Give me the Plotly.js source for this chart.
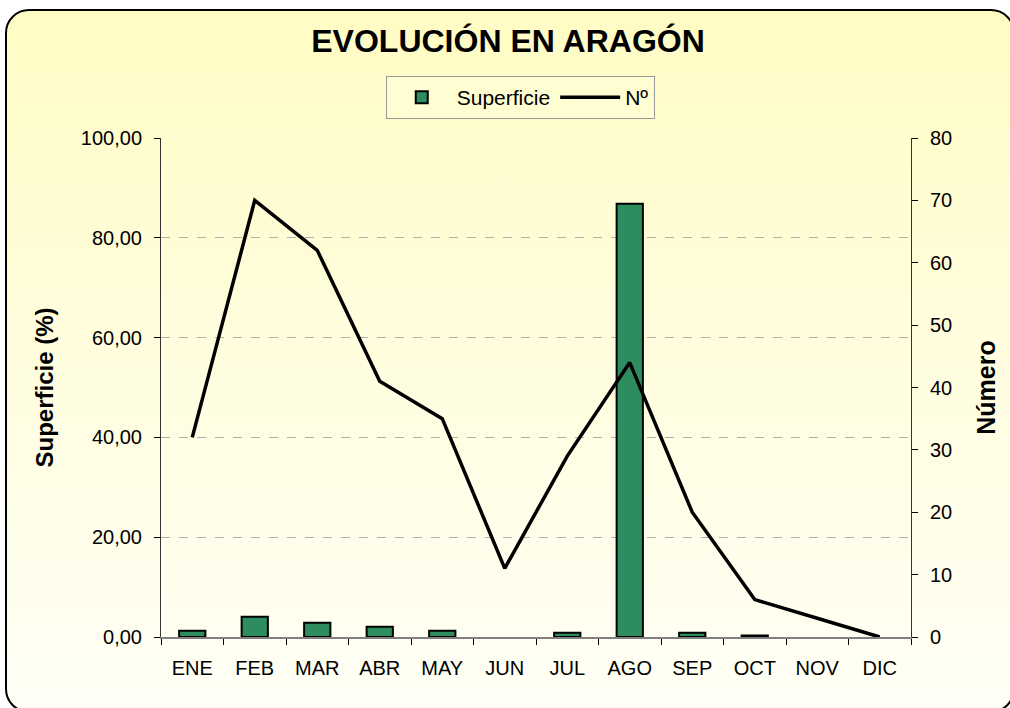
<!DOCTYPE html>
<html>
<head>
<meta charset="utf-8">
<script src="https://cdn.plot.ly/plotly-3.0.1.min.js"></script>
<style>
  html, body { margin: 0; padding: 0; background: #ffffff; overflow: hidden; }
  #frame {
    position: absolute; left: 5px; top: 9px; width: 1010px; height: 704px;
    border: 2px solid #000; border-radius: 24px; box-sizing: border-box;
    background: linear-gradient(to bottom, #fffcc4 0%, #fffddc 45%, #fffff6 100%);
  }
  #chart { position: absolute; left: 0; top: 0; width: 1010px; height: 708px; }
</style>
</head>
<body>
<div id="frame"></div>
<div id="chart"></div>
<script>
const months = ["ENE","FEB","MAR","ABR","MAY","JUN","JUL","AGO","SEP","OCT","NOV","DIC"];
const superficie = [1.27, 4.05, 2.87, 2.07, 1.27, 0, 0.87, 86.8, 0.87, 0.3, 0, 0];
const numero = [32, 70, 62, 41, 35, 11, 29, 44, 20, 6, 3, 0];
const leftTicks = [0, 20, 40, 60, 80, 100];
const rightTicks = [0, 10, 20, 30, 40, 50, 60, 70, 80];

const FONT = "Liberation Sans, Arial, sans-serif";
const TICK = 20;

const traces = [
  {
    type: "bar", name: "Superficie", x: months, y: superficie,
    width: 0.42,
    marker: { color: "#2d8d5f", line: { color: "#000000", width: superficie.map(v => v > 0 ? 2 : 0) } },
    yaxis: "y"
  },
  {
    type: "scatter", mode: "lines", name: "Nº", x: months, y: numero,
    line: { color: "#000000", width: 3.5 },
    yaxis: "y2"
  }
];

const layout = {
  width: 1010, height: 708,
  paper_bgcolor: "rgba(0,0,0,0)", plot_bgcolor: "rgba(0,0,0,0)",
  margin: { l: 161, r: 99, t: 138, b: 71 },
  font: { family: FONT, color: "#000", size: TICK },
  separators: ",.",
  title: {
    text: "<b>EVOLUCIÓN EN ARAGÓN</b>",
    font: { family: FONT, size: 32, color: "#000" },
    x: 0.503, xref: "container", xanchor: "center",
    y: 0.943, yref: "container", yanchor: "middle"
  },
  showlegend: true,
  legend: {
    orientation: "h", x: 0.479, xanchor: "center", y: 1.124, yanchor: "top",
    bgcolor: "#fffdd2", bordercolor: "#999999", borderwidth: 1,
    font: { family: FONT, size: 21, color: "#000" },
    itemwidth: 60,
    traceorder: "normal"
  },
  xaxis: {
    type: "category", tickson: "boundaries", ticks: "outside", ticklen: 6, tickcolor: "#000",
    showline: true, linecolor: "#808080", linewidth: 2,
    tickfont: { family: FONT, size: TICK, color: "#000" },
    ticklabelstandoff: 12,
    showgrid: false, zeroline: false, fixedrange: true
  },
  yaxis: {
    range: [0, 100], tickvals: leftTicks, tickformat: ".2f",
    ticks: "outside", ticklen: 6, tickcolor: "#000",
    showline: true, linecolor: "#333", linewidth: 1,
    showgrid: true, gridcolor: "#b0b0b0", griddash: "dash", gridwidth: 1,
    zeroline: false, ticklabelstandoff: 8,
    tickfont: { family: FONT, size: TICK, color: "#000" },
    title: { text: "<b>Superficie (%)</b>", font: { family: FONT, size: 24, color: "#000" }, standoff: 20 }
  },
  yaxis2: {
    overlaying: "y", side: "right", range: [0, 80], tickvals: rightTicks,
    ticks: "outside", ticklen: 6, tickcolor: "#000",
    showline: true, linecolor: "#333", linewidth: 1,
    showgrid: false, zeroline: false, ticklabelstandoff: 8,
    tickfont: { family: FONT, size: TICK, color: "#000" },
    title: { text: "<b>Número</b>", font: { family: FONT, size: 25, color: "#000" }, standoff: 26 }
  },
  yaxis3: {
    overlaying: "y", side: "left", range: [0, 100], tickvals: leftTicks,
    ticks: "inside", ticklen: 6, tickcolor: "#000", showticklabels: false,
    showline: false, showgrid: false, zeroline: false
  },
  yaxis4: {
    overlaying: "y", side: "right", range: [0, 80], tickvals: rightTicks,
    ticks: "inside", ticklen: 6, tickcolor: "#000", showticklabels: false,
    showline: false, showgrid: false, zeroline: false
  }
};

Plotly.newPlot("chart", traces, layout, { displayModeBar: false, staticPlot: true });
</script>
</body>
</html>
